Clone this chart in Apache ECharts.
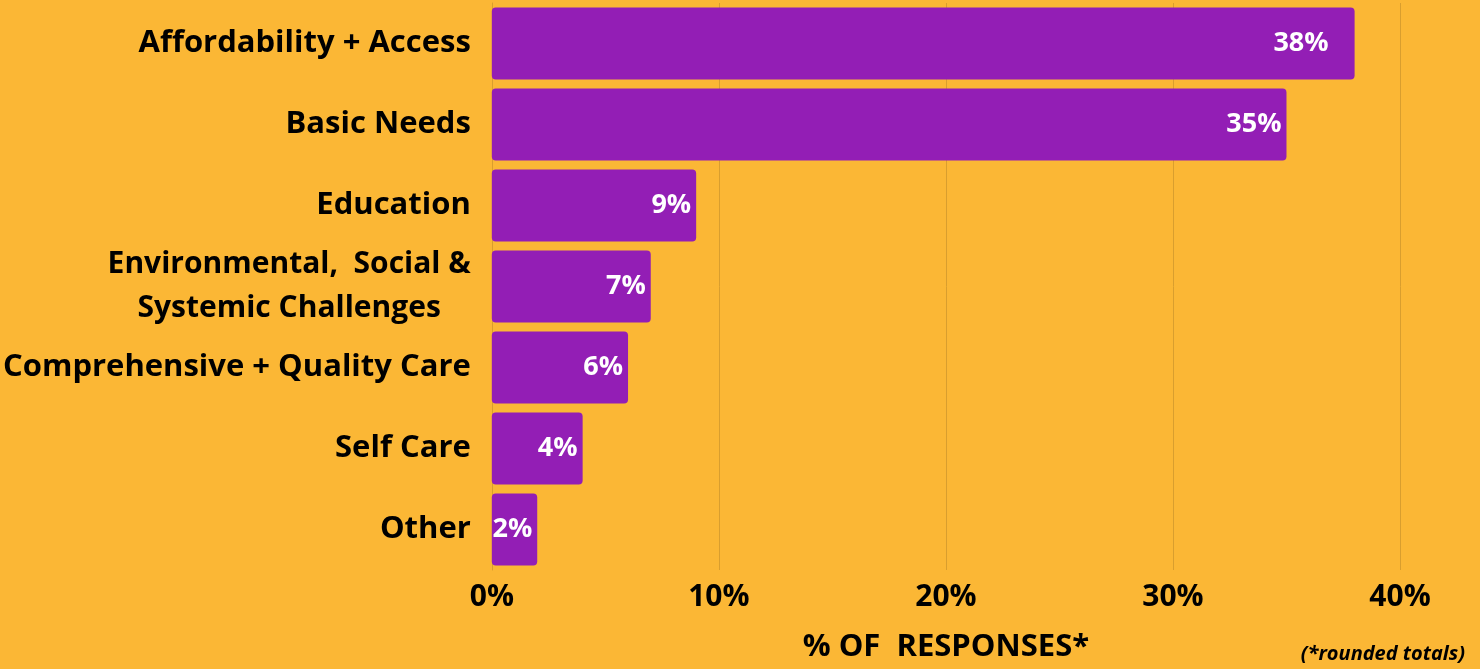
<!DOCTYPE html>
<html><head><meta charset="utf-8">
<script src="https://cdn.jsdelivr.net/npm/echarts@6/dist/echarts.min.js"></script>
<style>html,body{margin:0;padding:0;background:#FBB735;}#c{width:1480px;height:669px;}</style>
</head><body><div id="c"></div>
<script>
const categories = ["Affordability + Access","Basic Needs","Education","Environmental,  Social &\nSystemic Challenges","Comprehensive + Quality Care","Self Care","Other"];
const values = [38, 35, 9, 7, 6, 4, 2];
const xTicks = [0, 10, 20, 30, 40];
const xAxisTitle = "% OF  RESPONSES*";
const footnote = "(*rounded totals)";

const FONT = '"Open Sans", sans-serif';
const chart = echarts.init(document.getElementById('c'), null, {renderer:'canvas'});
chart.setOption({
  backgroundColor: '#FBB735',
  animation: false,
  grid: {left: 490, right: 80, top: 3, bottom: 99},
  xAxis: {
    type: 'value', min: xTicks[0], max: xTicks[xTicks.length-1], interval: 10,
    axisLine: {show: false}, axisTick: {show: false},
    splitLine: {show: true, lineStyle: {color: '#D99E2E', width: 1}},
    axisLabel: {formatter: '{value}%', color: '#000', fontFamily: FONT, fontWeight: 'bold', fontSize: 30, margin: 12},
    name: xAxisTitle, nameLocation: 'middle', nameGap: 62,
    nameTextStyle: {color: '#000', fontFamily: FONT, fontWeight: 'bold', fontSize: 31}
  },
  yAxis: {
    type: 'category', data: categories, inverse: true,
    axisLine: {show: true, lineStyle: {color: '#D99E2E'}}, axisTick: {show: false},
    axisLabel: {
      color: '#000', fontFamily: FONT, fontWeight: 'bold', fontSize: 31, margin: 21, lineHeight: 44,
      formatter: function(v){ return v.indexOf('\n')>=0 ? v.split('\n').map(s=>'{c|'+s+'}').join('\n') : v; },
      rich: {c: {align: 'center', color:'#000', fontFamily: FONT, fontWeight: 'bold', fontSize: 30, lineHeight: 44}}
    }
  },
  series: [{
    type: 'bar',
    data: values.map((v,i)=> i===0 ? {value: v, label: {distance: 26}} : v),
    barCategoryGap: '11%',
    itemStyle: {color: '#931EB5', borderRadius: 4},
    label: {show: true, position: 'insideRight', distance: 5, formatter: '{c}%', color: '#fff', fontFamily: FONT, fontWeight: 'bold', fontSize: 27}
  }],
  graphic: [{
    type: 'text', right: 15, top: 644,
    style: {text: footnote, fill: '#000', font: 'italic bold 20px "Open Sans", sans-serif'}
  }]
});
</script></body></html>
